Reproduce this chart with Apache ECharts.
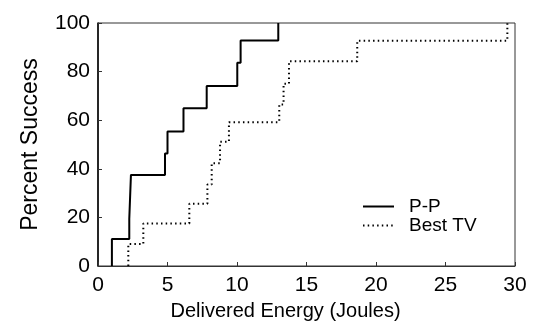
<!DOCTYPE html>
<html>
<head>
<meta charset="utf-8">
<script src="https://cdn.jsdelivr.net/npm/echarts@6/dist/echarts.min.js"></script>
<style>
html,body{margin:0;padding:0;background:#fff;}
#c{width:534px;height:326px;}
</style>
</head>
<body>
<div id="c"></div>
<script>
// P-P: energies (J) where success steps up, and the level reached (%)
const ppEnergy  = [1.0, 2.25, 2.37, 4.82, 5.0, 6.15, 7.82, 10.02, 10.26, 12.97];
const ppPercent = [11.1, 19.4, 37.5, 46.3, 55.4, 64.9, 74.1, 83.6, 92.8, 100];
// Best TV
const tvEnergy  = [2.18, 3.26, 6.57, 7.87, 8.18, 8.78, 9.42, 13.04, 13.35, 13.74, 18.65, 29.45];
const tvPercent = [9.1, 17.5, 25.6, 33.5, 42.3, 51.1, 59.2, 66.5, 75.0, 84.3, 92.7, 100];
const xTicks = [0, 5, 10, 15, 20, 25, 30];
const yTicks = [0, 20, 40, 60, 80, 100];
const seriesNames = ['P-P', 'Best TV'];

function stepData(xs, ys) {
  const d = [[xs[0], 0]];
  xs.forEach((x, i) => d.push([x, ys[i]]));
  return d;
}

const FONT = 'Liberation Sans, Arial, Helvetica, sans-serif';
const chart = echarts.init(document.getElementById('c'), null, {renderer: 'canvas'});
chart.setOption({
  animation: false,
  backgroundColor: '#fff',
  grid: {left: 98, right: 19, top: 23, bottom: 57, show: true, borderColor: '#333', borderWidth: 1},
  legend: {
    data: seriesNames,
    orient: 'vertical',
    left: 357, top: 192,
    itemWidth: 31, itemHeight: 10, itemGap: 0,
    itemStyle: {opacity: 0},
    textStyle: {fontFamily: FONT, fontSize: 19, lineHeight: 17, color: '#000', padding: [0, 0, 0, 10]},
  },
  xAxis: {
    type: 'value', min: xTicks[0], max: xTicks[xTicks.length - 1], interval: 5,
    name: 'Delivered Energy (Joules)', nameLocation: 'middle', nameGap: 35,
    nameTextStyle: {fontFamily: FONT, fontSize: 20, color: '#000', padding: [0, 42, 0, 0]},
    axisLine: {show: true, lineStyle: {color: '#333', width: 1}},
    axisTick: {show: true, inside: true, length: 4, lineStyle: {color: '#333'}},
    axisLabel: {fontFamily: FONT, fontSize: 21, color: '#000', margin: 9},
    splitLine: {show: false}
  },
  yAxis: {
    type: 'value', min: yTicks[0], max: yTicks[yTicks.length - 1], interval: 20,
    name: 'Percent Success', nameLocation: 'middle', nameGap: 56,
    nameTextStyle: {fontFamily: FONT, fontSize: 23, color: '#000'},
    axisLine: {show: true, lineStyle: {color: '#000', width: 1.5}},
    axisTick: {show: true, inside: true, length: 4, lineStyle: {color: '#333'}},
    axisLabel: {fontFamily: FONT, fontSize: 21, color: '#000', margin: 8},
    splitLine: {show: false}
  },
  series: [
    {
      name: seriesNames[0], type: 'line', step: 'end', symbol: 'none',
      data: stepData(ppEnergy, ppPercent),
      lineStyle: {color: '#000', width: 2, type: 'solid'},
      itemStyle: {color: '#000'}
    },
    {
      name: seriesNames[1], type: 'line', step: 'end', symbol: 'none',
      data: stepData(tvEnergy, tvPercent),
      lineStyle: {color: '#000', width: 2, type: [1.5, 3.2]},
      itemStyle: {color: '#000'}
    }
  ]
});
</script>
</body>
</html>
